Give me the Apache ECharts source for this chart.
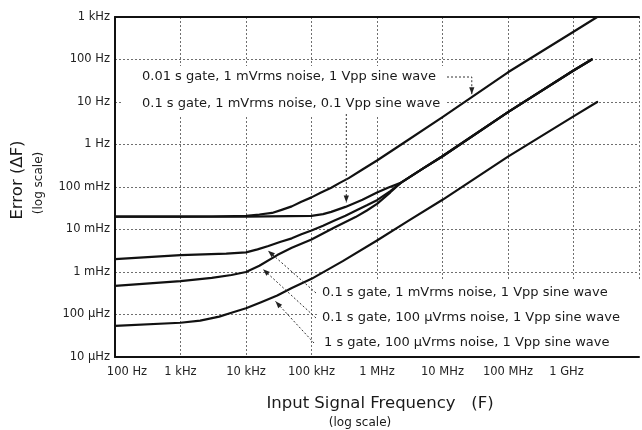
<!DOCTYPE html>
<html>
<head>
<meta charset="utf-8">
<script src="https://cdn.jsdelivr.net/npm/echarts/dist/echarts.min.js"></script>
<style>
  html, body { margin: 0; padding: 0; background: #fff; }
  #main { width: 642px; height: 430px; }
</style>
</head>
<body>
<div id="main"></div>
<script>
// ---- Data ----
const xTickLabels = ['100 Hz', '1 kHz', '10 kHz', '100 kHz', '1 MHz', '10 MHz', '100 MHz', '1 GHz', ''];
const yTickLabels = ['10 μHz', '100 μHz', '1 mHz', '10 mHz', '100 mHz', '1 Hz', '10 Hz', '100 Hz', '1 kHz'];

// 0.01 s gate, 1 mVrms noise, 1 Vpp sine wave
const freqD = [1e2, 1e3, 3e3, 1e4, 1.6e4, 2.5e4, 3.5e4, 5e4, 7e4, 1e5, 1.4e5, 2e5, 2.7e5, 3.7e5, 6e5, 1e6, 2e6, 1e7, 1e8, 1e9, 2.3e9];
const errD  = [0.02, 0.02, 0.0202, 0.021, 0.0225, 0.0245, 0.029, 0.035, 0.045, 0.057, 0.074, 0.096, 0.125, 0.162, 0.258, 0.42, 0.85, 4.4, 50, 450, 1000];

// 0.1 s gate, 1 mVrms noise, 0.1 Vpp sine wave
const freqE = [1e2, 1e3, 1e4, 1e5, 1.5e5, 2e5, 3.3e5, 6e5, 1e6, 1.5e6, 2.3e6, 5e6, 1e7, 1e8, 1e9, 1.9e9];
const errE  = [0.02, 0.02, 0.02, 0.021, 0.023, 0.026, 0.034, 0.05, 0.074, 0.097, 0.125, 0.27, 0.53, 5.8, 55, 100];

// 0.1 s gate, 1 mVrms noise, 1 Vpp sine wave
const freqC = [1e2, 1e3, 5e3, 1e4, 1.5e4, 2.2e4, 3.3e4, 5e4, 7e4, 1e5, 1.5e5, 2.2e5, 3.3e5, 4.7e5, 7e5, 1e6, 1.6e6, 2.3e6, 5e6, 1e7, 1e8, 1e9, 1.9e9];
const errC  = [0.002, 0.0025, 0.0027, 0.0029, 0.0034, 0.0041, 0.0051, 0.0062, 0.0077, 0.0095, 0.0123, 0.016, 0.021, 0.0275, 0.037, 0.049, 0.08, 0.125, 0.27, 0.53, 5.8, 55, 100];

// 0.1 s gate, 100 uVrms noise, 1 Vpp sine wave
const freqB = [1e2, 1e3, 3e3, 6e3, 1e4, 1.6e4, 3e4, 5e4, 1e5, 2.2e5, 4.7e5, 7e5, 1e6, 1.6e6, 2.3e6, 5e6, 1e7, 1e8, 1e9, 1.9e9];
const errB  = [0.00047, 0.00061, 0.00073, 0.00085, 0.001, 0.0014, 0.0025, 0.0037, 0.0058, 0.011, 0.0196, 0.028, 0.04, 0.075, 0.125, 0.27, 0.53, 5.8, 55, 100];

// 1 s gate, 100 uVrms noise, 1 Vpp sine wave
const freqA = [1e2, 1e3, 2e3, 3.9e3, 6e3, 1e4, 1.7e4, 3e4, 5e4, 1e5, 3e5, 1e6, 3e6, 1e7, 1e8, 1e9, 2.3e9];
const errA  = [5.4e-5, 6.4e-5, 7.2e-5, 8.9e-5, 1.1e-4, 1.4e-4, 1.95e-4, 2.8e-4, 4.2e-4, 6.9e-4, 1.8e-3, 5.5e-3, 0.016, 0.05, 0.52, 4.6, 10];

const labelTop1 = '0.01 s gate, 1 mVrms noise, 1 Vpp sine wave';
const labelTop2 = '0.1 s gate, 1 mVrms noise, 0.1 Vpp sine wave';
const labelBot1 = '0.1 s gate, 1 mVrms noise, 1 Vpp sine wave';
const labelBot2 = '0.1 s gate, 100 μVrms noise, 1 Vpp sine wave';
const labelBot3 = '1 s gate, 100 μVrms noise, 1 Vpp sine wave';

// points on curves that the leader arrows point to (data units)
const targetD = [2.8e7, 12.3];
const targetE = [3.4e5, 0.035];
const targetC = [1.9e4, 0.0038];
const targetB = [1.6e4, 0.0014];
const targetA = [2.5e4, 0.00025];

// ---- Chart ----
const FONT = '"DejaVu Sans", "Liberation Sans", sans-serif';
const zip = (xs, ys) => xs.map((x, i) => [x, ys[i]]);

function mkSeries(name, xs, ys) {
  return {
    name, type: 'line', data: zip(xs, ys),
    showSymbol: false, smooth: false,
    lineStyle: { color: '#111', width: 2.2, join: 'round', cap: 'round' }, z: 5, silent: true
  };
}

const option = {
  animation: false,
  backgroundColor: '#fff',
  grid: { left: 115, right: 0, top: 17, bottom: 73 },
  xAxis: [{
    type: 'log', logBase: 10, min: 1e2, max: 1e10, splitNumber: 8,
    axisLine: { show: true, lineStyle: { color: '#111', width: 2 } },
    axisTick: { show: false },
    splitLine: { show: true, lineStyle: { color: '#6f6f6f', width: 1, type: [2, 2] } },
    minorSplitLine: { show: false },
    axisLabel: {
      margin: 9, color: '#222', fontFamily: FONT, fontSize: 11.5,
      formatter: function (v) {
        const i = Math.round(Math.log10(v)) - 2;
        const t = xTickLabels[i] || '';
        if (!t) return '';
        if (i === 0) return '{first|' + t + '}';
        if (i === 7) return '{last|' + t + '}';
        return t;
      },
      rich: {
        first: { padding: [0, 0, 0, 24], fontFamily: FONT, fontSize: 11.5, color: '#222' },
        last: { padding: [0, 14, 0, 0], fontFamily: FONT, fontSize: 11.5, color: '#222' }
      }
    }
  }, {
    type: 'log', logBase: 10, min: 1e2, max: 1e10, position: 'top',
    axisLine: { show: true, lineStyle: { color: '#111', width: 2 } },
    axisTick: { show: false }, axisLabel: { show: false }, splitLine: { show: false }
  }],
  yAxis: {
    type: 'log', logBase: 10, min: 1e-5, max: 1e3, splitNumber: 8,
    axisLine: { show: true, lineStyle: { color: '#111', width: 2 } },
    axisTick: { show: false },
    splitLine: { show: true, lineStyle: { color: '#6f6f6f', width: 1, type: [2, 2] } },
    axisLabel: {
      margin: 5, color: '#222', fontFamily: FONT, fontSize: 11.5,
      formatter: function (v) {
        const i = Math.round(Math.log10(v)) + 5;
        return yTickLabels[i] || '';
      }
    }
  },
  series: [
    mkSeries('D', freqD, errD),
    mkSeries('E', freqE, errE),
    mkSeries('C', freqC, errC),
    mkSeries('B', freqB, errB),
    mkSeries('A', freqA, errA)
  ]
};

const chart = echarts.init(document.getElementById('main'), null, { renderer: 'canvas' });
chart.setOption(option);

const P = (pt) => chart.convertToPixel({ gridIndex: 0 }, pt);

function arrowHead(tip, from) {
  const dx = tip[0] - from[0], dy = tip[1] - from[1];
  const L = Math.hypot(dx, dy) || 1;
  const ux = dx / L, uy = dy / L, len = 7, half = 2.6;
  const bx = tip[0] - ux * len, by = tip[1] - uy * len;
  return {
    type: 'polygon', z: 60, silent: true,
    shape: { points: [[tip[0], tip[1]], [bx - uy * half, by + ux * half], [bx + uy * half, by - ux * half]] },
    style: { fill: '#222' }
  };
}
function leader(points) {
  return {
    type: 'polyline', z: 55, silent: true,
    shape: { points },
    style: { stroke: '#333', lineWidth: 1, lineDash: [2, 2], fill: null }
  };
}
function offsetToward(p, q, d) {
  const dx = q[0] - p[0], dy = q[1] - p[1];
  const L = Math.hypot(dx, dy) || 1;
  return [p[0] + dx / L * d, p[1] + dy / L * d];
}
function txt(text, x, y, size, align, rotation) {
  return {
    type: 'text', x, y, z: 70, silent: true, rotation: rotation || 0,
    style: { text, font: size + 'px ' + FONT, fill: '#1a1a1a', textAlign: align || 'left', textVerticalAlign: 'middle' }
  };
}

const g = [];
// white label boxes
g.push({ type: 'rect', z: 3, silent: true, shape: { x: 122, y: 66, width: 323, height: 49 }, style: { fill: '#fff' } });
g.push({ type: 'rect', z: 3, silent: true, shape: { x: 317, y: 279, width: 330, height: 76 }, style: { fill: '#fff' } });

// top labels
g.push(txt(labelTop1, 142, 77, 13));
g.push(txt(labelTop2, 142, 104, 13));
// bottom labels
g.push(txt(labelBot1, 322, 293, 13));
g.push(txt(labelBot2, 322, 318, 13));
g.push(txt(labelBot3, 324, 343, 13));

// leader for top label 1
{
  const c = P(targetD);
  const tip = [c[0], c[1] - 4];
  const knee = [c[0], 77];
  g.push(leader([[447, 77], knee, tip]));
  g.push(arrowHead(tip, knee));
}
// leader for top label 2
{
  const c = P(targetE);
  const tip = [c[0], c[1] - 4];
  const start = [c[0], 114];
  g.push(leader([start, tip]));
  g.push(arrowHead(tip, start));
}
// bottom leaders
[[targetC, [316, 293]], [targetB, [316, 318]], [targetA, [314, 343]]].forEach(([t, s]) => {
  const c = P(t);
  const tip = offsetToward(c, s, 5);
  g.push(leader([s, tip]));
  g.push(arrowHead(tip, s));
});

// axis titles
g.push(txt('Error (ΔF)', 18, 180, 16.5, 'center', Math.PI / 2));
g.push(txt('(log scale)', 39, 183, 12, 'center', Math.PI / 2));
g.push(txt('Input Signal Frequency   (F)', 380, 404, 16.5, 'center'));
g.push(txt('(log scale)', 360, 423, 12, 'center'));

chart.setOption({ graphic: { elements: g } });
</script>
</body>
</html>
